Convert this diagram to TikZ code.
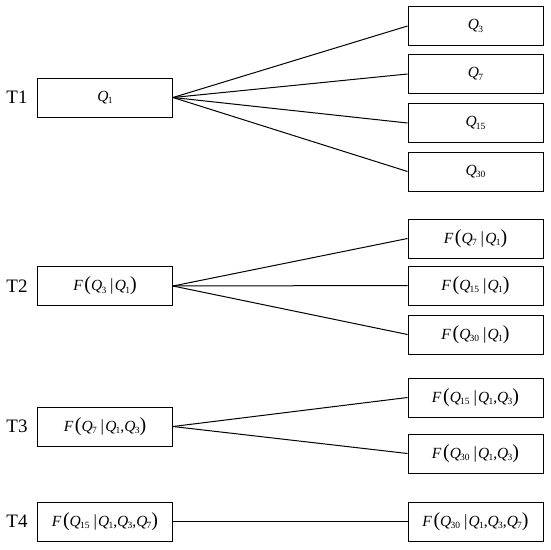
\documentclass[tikz,border=0pt]{standalone}
\usepackage{fontspec}
\setmainfont{Liberation Serif}
\newcommand\qq[1]{\textit{Q}\kern-0.05em\raisebox{-0.35ex}{\fontsize{9.5}{9.5}\selectfont #1}}
\newcommand\lp{\kern0.05em{\fontsize{20}{20}\selectfont(}}
\newcommand\rp{{\fontsize{20}{20}\selectfont)}}
\newcommand\vb{\kern0.25em{\fontsize{17}{17}\selectfont|}\kern0.08em}
\newcommand\ff{\textit{F}\kern0.05em}
\begin{document}
\begin{tikzpicture}[x=1pt,y=-1pt,
  box/.style={draw,line width=1pt,minimum width=135pt,minimum height=39pt,inner sep=0pt,font=\fontsize{15.5}{15.5}\selectfont},
  tlab/.style={font=\fontsize{19}{19}\selectfont},
  conn/.style={line width=1pt}]
\useasboundingbox (0,0) rectangle (550,550);
% T1
\node[tlab] (t1) at (17,97.5) {T1};
\node[box] (a1) at (105,97.5) {\qq{1}};
\node[box] (b1) at (475.5,26) {\qq{3}};
\node[box] (b2) at (475.5,74) {\qq{7}};
\node[box] (b3) at (475.5,123) {\qq{15}};
\node[box] (b4) at (475.5,171.5) {\qq{30}};
\foreach \n in {b1,b2,b3,b4} \draw[conn] (a1.east) -- (\n.west);
% T2
\node[tlab] (t2) at (17,286) {T2};
\node[box] (a2) at (105,286) {\ff\lp\qq{3}\vb\qq{1}\rp};
\node[box] (c1) at (475.5,238.5) {\ff\lp\qq{7}\vb\qq{1}\rp};
\node[box] (c2) at (475.5,285.5) {\ff\lp\qq{15}\vb\qq{1}\rp};
\node[box] (c3) at (475.5,334.5) {\ff\lp\qq{30}\vb\qq{1}\rp};
\foreach \n in {c1,c2,c3} \draw[conn] (a2.east) -- (\n.west);
% T3
\node[tlab] (t3) at (17,426.5) {T3};
\node[box] (a3) at (105,426.5) {\ff\lp\qq{7}\vb\qq{1},\qq{3}\rp};
\node[box] (d1) at (475.5,397.5) {\ff\lp\qq{15}\vb\qq{1},\qq{3}\rp};
\node[box] (d2) at (475.5,453.5) {\ff\lp\qq{30}\vb\qq{1},\qq{3}\rp};
\foreach \n in {d1,d2} \draw[conn] (a3.east) -- (\n.west);
% T4
\node[tlab] (t4) at (17,521.5) {T4};
\node[box] (a4) at (105,521.5) {\ff\lp\qq{15}\vb\qq{1},\qq{3},\qq{7}\rp};
\node[box] (e1) at (475.5,521.5) {\ff\lp\qq{30}\vb\qq{1},\qq{3},\qq{7}\rp};
\draw[conn] (a4.east) -- (e1.west);
\end{tikzpicture}
\end{document}
